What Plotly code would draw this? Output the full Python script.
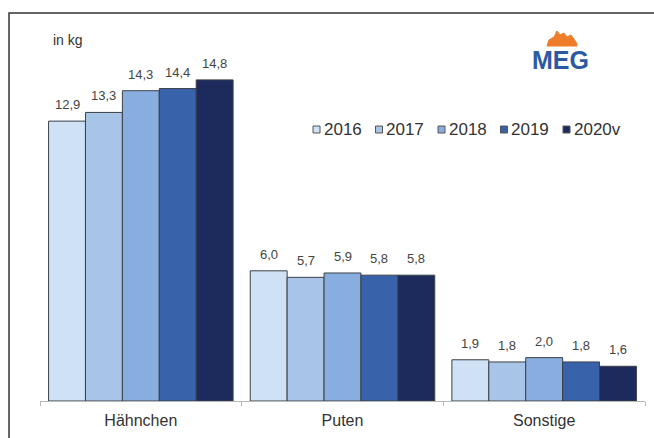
import plotly.graph_objects as go

# Per-capita consumption of poultry meat, in kg
categories = ["Hähnchen", "Puten", "Sonstige"]
years = ["2016", "2017", "2018", "2019", "2020v"]
values = {
    "2016": [12.9, 6.0, 1.9],
    "2017": [13.3, 5.7, 1.8],
    "2018": [14.3, 5.9, 2.0],
    "2019": [14.4, 5.8, 1.8],
    "2020v": [14.8, 5.8, 1.6],
}
colors = ["#cfe1f4", "#a8c4e6", "#88addf", "#3862aa", "#1d2b5c"]

W, H = 654, 438
ML, MR, MT, MB = 40, 9, 43, 37
BARGAP = 0.085
FONT = "Liberation Sans, Arial, sans-serif"

plot_w = W - ML - MR
slot_px = plot_w / len(categories) * (1 - BARGAP) / len(years)


def px(x):
    return (x - ML) / plot_w


def py(y):
    return (H - MB - y) / (H - MT - MB)


fig = go.Figure()
annotations = []
for i, (yr, col) in enumerate(zip(years, colors)):
    vals = values[yr]
    fig.add_trace(go.Bar(
        name=yr,
        x=categories,
        y=vals,
        marker=dict(color=col, line=dict(color="#3c4048", width=1)),
        showlegend=False,
    ))
    # value labels above each bar, centred on the bar's slot in the group
    for cat, v in zip(categories, vals):
        annotations.append(dict(
            x=cat, y=v, xref="x", yref="y",
            text=f"{v:.1f}".replace(".", ","),
            showarrow=False, xanchor="center", yanchor="bottom",
            xshift=(i - (len(years) - 1) / 2) * slot_px, yshift=7,
            font=dict(family=FONT, size=13, color="#444444"),
        ))

shapes = []

# frame around the chart
shapes.append(dict(type="rect", xref="paper", yref="paper",
                   x0=px(9), x1=px(680), y0=py(13), y1=py(460),
                   line=dict(color="#333333", width=1.5), layer="below"))

# compact legend: small squares followed by the year
for i, (yr, col) in enumerate(zip(years, colors)):
    x0 = 313 + i * 62.5
    shapes.append(dict(type="rect", xref="paper", yref="paper",
                       x0=px(x0), x1=px(x0 + 7), y0=py(126), y1=py(133),
                       fillcolor=col, line=dict(color="#555555", width=1)))
    annotations.append(dict(text=yr, xref="paper", yref="paper",
                            x=px(x0 + 8.5), y=py(129.5), xanchor="left", yanchor="middle",
                            showarrow=False,
                            font=dict(family=FONT, size=17, color="#333333")))

# unit label
annotations.append(dict(text="in kg", xref="paper", yref="paper",
                        x=px(51), y=py(40), xanchor="left", yanchor="middle",
                        showarrow=False, font=dict(family=FONT, size=14, color="#333333")))

# MEG logo: wordmark with an orange flame above it
annotations.append(dict(text="<b>MEG</b>", xref="paper", yref="paper",
                        x=px(560), y=py(60), xanchor="center", yanchor="middle",
                        showarrow=False, font=dict(family=FONT, size=25, color="#2b5aa3")))
flame_pts = [(547, 46), (549, 40), (554, 37), (557, 31), (560, 35), (564, 33),
             (567, 37), (571, 35), (576, 42), (577, 46)]
path = "M " + " L ".join(f"{px(x):.5f},{py(y):.5f}" for x, y in flame_pts) + " Z"
shapes.append(dict(type="path", xref="paper", yref="paper", path=path,
                   fillcolor="#ee7d2a", line=dict(color="#ee7d2a", width=1)))

fig.update_layout(
    width=W, height=H,
    margin=dict(l=ML, r=MR, t=MT, b=MB),
    paper_bgcolor="white", plot_bgcolor="white",
    barmode="group", bargap=BARGAP, bargroupgap=0,
    font=dict(family=FONT, color="#333333"),
    shapes=shapes, annotations=annotations,
    showlegend=False,
)
fig.update_xaxes(showline=True, linecolor="#b8b8b8", linewidth=1,
                 ticks="outside", tickson="boundaries", ticklen=4, tickcolor="#b8b8b8",
                 ticklabelstandoff=5,
                 tickfont=dict(family=FONT, size=16, color="#333333"), showgrid=False)
fig.update_yaxes(range=[0, 16.5], visible=False, showgrid=False)

fig.write_html("out.html")
